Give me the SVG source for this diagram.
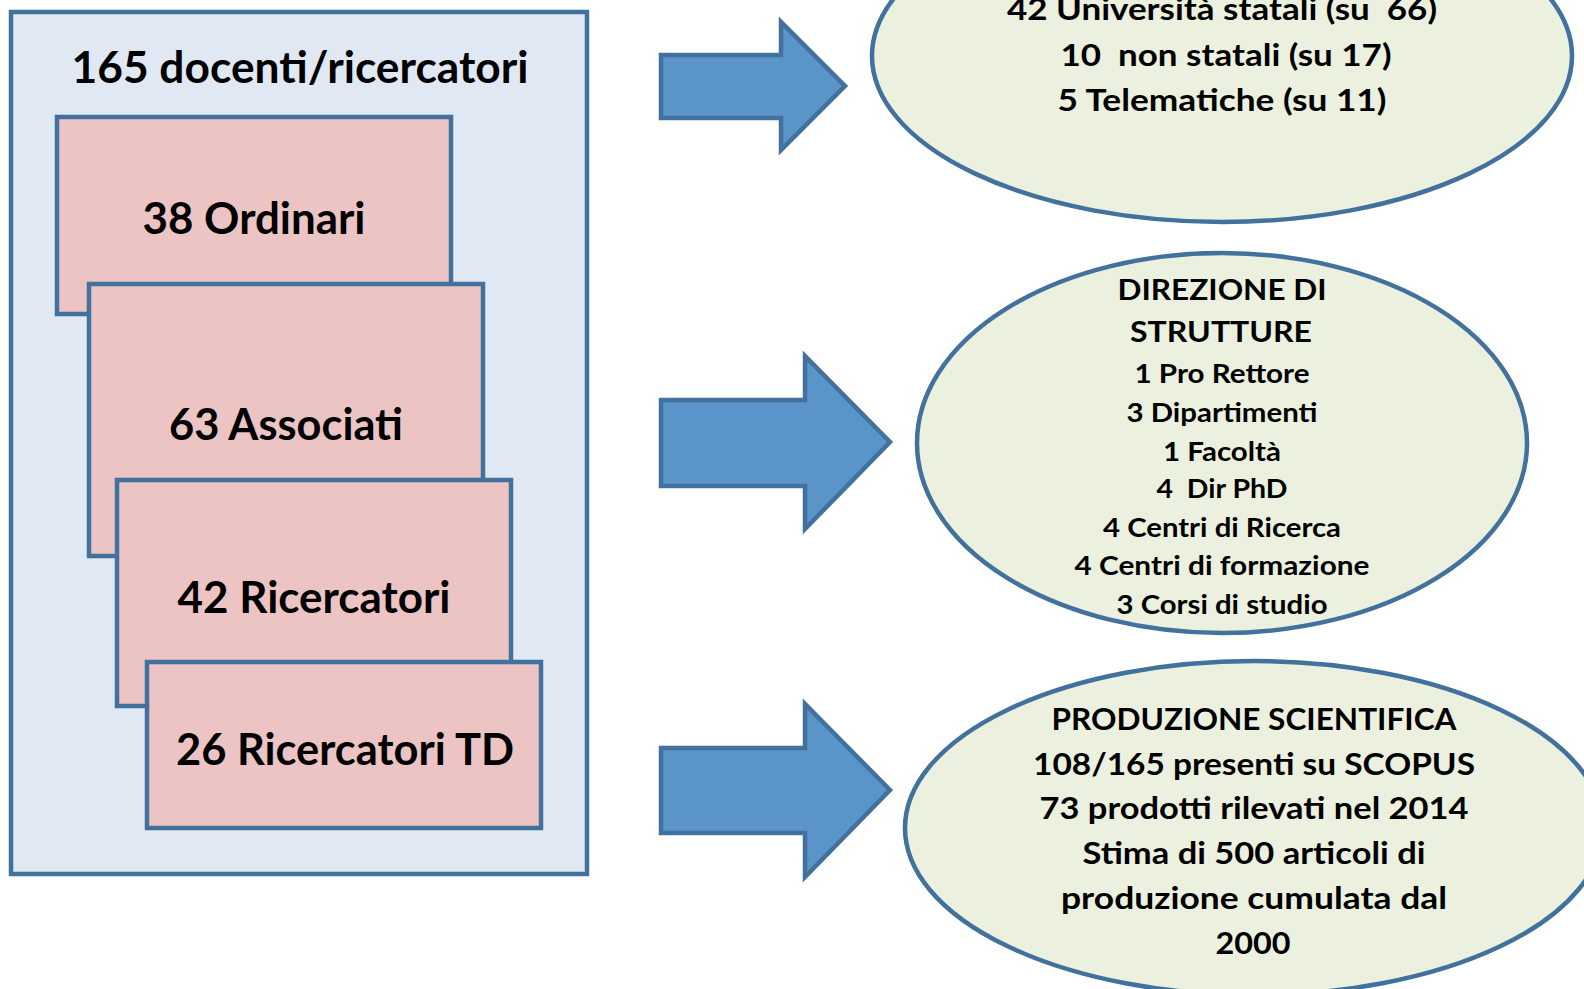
<svg xmlns="http://www.w3.org/2000/svg" width="1584" height="989" viewBox="0 0 1584 989">
<style>
.t{font-family:Lato,"Open Sans","Liberation Sans",sans-serif;font-weight:bold;fill:#000;text-anchor:middle}
.big{font-size:44px}
.mid{font-size:31px}
.sm{font-size:29px}
.xs{font-size:26px}
.box{fill:#EBC4C3;stroke:#41719C;stroke-width:4.5}
.ell{fill:#EBF1DE;stroke:#41719C;stroke-width:4.5}
.arr{fill:#5B94C9;stroke:#41719C;stroke-width:4.5}
</style>
<rect width="1584" height="989" fill="#fff"/>
<g id="docenti">
<rect x="11" y="12" width="576" height="862" fill="#DFE8F3" stroke="#41719C" stroke-width="4.5"/>
<text class="t big" x="300" y="83" textLength="457" lengthAdjust="spacingAndGlyphs">165 docenti/ricercatori</text>
</g>
<g id="ordinari">
<rect class="box" x="57" y="117" width="394" height="197"/>
<text class="t big" x="254" y="234" textLength="223" lengthAdjust="spacingAndGlyphs">38 Ordinari</text>
</g>
<g id="associati">
<rect class="box" x="89" y="284" width="394" height="272"/>
<text class="t big" x="286" y="440" textLength="234" lengthAdjust="spacingAndGlyphs">63 Associati</text>
</g>
<g id="ricercatori">
<rect class="box" x="117" y="480" width="394" height="226"/>
<text class="t big" x="314" y="613" textLength="273" lengthAdjust="spacingAndGlyphs">42 Ricercatori</text>
</g>
<g id="ricercatori-td">
<rect class="box" x="147" y="662" width="394" height="166"/>
<text class="t big" x="345" y="765" textLength="338" lengthAdjust="spacingAndGlyphs">26 Ricercatori TD</text>
</g>
<g id="connectors">
<path class="arr" d="M661,55 H781 V22 L845,86 L781,150 V118 H661 Z"/>
<path class="arr" d="M661,400 H805 V356 L890,442 L805,529 V486 H661 Z"/>
<path class="arr" d="M661,748 H805 V704 L890,790 L805,877 V833 H661 Z"/>
</g>
<g id="universita">
<ellipse class="ell" cx="1222" cy="56" rx="350" ry="166"/>
<text class="t mid" x="1222" y="20" textLength="430" lengthAdjust="spacingAndGlyphs" xml:space="preserve">42 Università statali (su  66)</text>
<text class="t mid" x="1226" y="66" textLength="331" lengthAdjust="spacingAndGlyphs" xml:space="preserve">10  non statali (su 17)</text>
<text class="t mid" x="1222" y="111" textLength="329" lengthAdjust="spacingAndGlyphs">5 Telematiche (su 11)</text>
</g>
<g id="direzione">
<ellipse class="ell" cx="1222" cy="443" rx="305" ry="190"/>
<text class="t sm" x="1222" y="300" textLength="209" lengthAdjust="spacingAndGlyphs">DIREZIONE DI</text>
<text class="t sm" x="1221" y="342" textLength="182" lengthAdjust="spacingAndGlyphs">STRUTTURE</text>
<text class="t xs" x="1222" y="383" textLength="175" lengthAdjust="spacingAndGlyphs">1 Pro Rettore</text>
<text class="t xs" x="1222" y="422" textLength="191" lengthAdjust="spacingAndGlyphs">3 Dipartimenti</text>
<text class="t xs" x="1222" y="461" textLength="118" lengthAdjust="spacingAndGlyphs">1 Facoltà</text>
<text class="t xs" x="1222" y="498" textLength="131" lengthAdjust="spacingAndGlyphs" xml:space="preserve">4  Dir PhD</text>
<text class="t xs" x="1222" y="537" textLength="238" lengthAdjust="spacingAndGlyphs">4 Centri di Ricerca</text>
<text class="t xs" x="1222" y="575" textLength="295" lengthAdjust="spacingAndGlyphs">4 Centri di formazione</text>
<text class="t xs" x="1222" y="614" textLength="211" lengthAdjust="spacingAndGlyphs">3 Corsi di studio</text>
</g>
<g id="produzione">
<ellipse class="ell" cx="1254" cy="828" rx="349" ry="167"/>
<text class="t mid" x="1254" y="730" textLength="405" lengthAdjust="spacingAndGlyphs">PRODUZIONE SCIENTIFICA</text>
<text class="t mid" x="1254" y="775" textLength="442" lengthAdjust="spacingAndGlyphs">108/165 presenti su SCOPUS</text>
<text class="t mid" x="1254" y="819" textLength="429" lengthAdjust="spacingAndGlyphs">73 prodotti rilevati nel 2014</text>
<text class="t mid" x="1254" y="864" textLength="343" lengthAdjust="spacingAndGlyphs">Stima di 500 articoli di</text>
<text class="t mid" x="1254" y="909" textLength="386" lengthAdjust="spacingAndGlyphs">produzione cumulata dal</text>
<text class="t mid" x="1253" y="954" textLength="75" lengthAdjust="spacingAndGlyphs">2000</text>
</g>
</svg>
